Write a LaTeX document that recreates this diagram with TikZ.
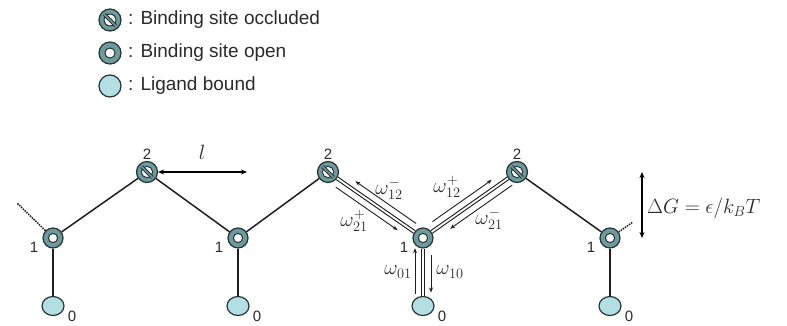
\documentclass[tikz,border=0pt]{standalone}
\usepackage{fontspec}
\setmainfont{Liberation Sans}
\usetikzlibrary{calc,arrows.meta,shapes.geometric}
\definecolor{ring}{HTML}{6F9A9D}
\definecolor{lig}{HTML}{B3DEE2}
\definecolor{outl}{HTML}{263334}
\definecolor{edgec}{HTML}{1E1E1E}
\definecolor{txt}{HTML}{2A2A2A}
\tikzset{
  site/.style={circle, draw=outl, line width=1.2bp, fill=ring, minimum size=#1, inner sep=0pt},
  opensite/.style={site=#1, path picture={
      \draw[outl, line width=1bp, fill=white] (path picture bounding box.center) circle (0.23*#1);}},
  occsite/.style={site=#1, path picture={
      \draw[outl, line width=1bp, fill=white] (path picture bounding box.center) circle (0.27*#1);
      \draw[outl, line width=3.6bp] ([shift={(-0.26*#1,0.26*#1)}]path picture bounding box.center) -- ([shift={(0.26*#1,-0.26*#1)}]path picture bounding box.center);
      \draw[ring, line width=1.6bp] ([shift={(-0.26*#1,0.26*#1)}]path picture bounding box.center) -- ([shift={(0.26*#1,-0.26*#1)}]path picture bounding box.center);}},
  ligsite/.style={ellipse, draw=outl, line width=1.2bp, fill=lig, minimum width=22bp, minimum height=19bp, inner sep=0pt},
  ligleg/.style={circle, draw=outl, line width=1.2bp, fill=lig, minimum size=22bp, inner sep=0pt},
  legtext/.style={anchor=west, inner sep=0pt, text=txt, font=\fontsize{19bp}{21bp}\selectfont},
  digit/.style={inner sep=0pt, text=txt, font=\fontsize{15bp}{16bp}\selectfont},
  mlabel/.style={inner sep=0pt, text=txt, font=\fontsize{19bp}{21bp}\selectfont},
  edge/.style={draw=edgec, line width=1.5bp},
  dedge/.style={draw=edgec, line width=1.1bp, double=white, double distance=1.8bp},
  dotline/.style={draw=edgec, line width=1.5bp, densely dotted},
  rate/.style={draw=edgec, line width=0.9bp, -{Stealth[length=5bp,width=4bp]}},
  bigarrow/.style={draw=black, line width=2bp, {Stealth[length=6bp,width=5bp]}-{Stealth[length=6bp,width=5bp]}}
}
\begin{document}
\begin{tikzpicture}[x=1bp,y=1bp]
\useasboundingbox (0,0) rectangle (787,325);
% legend
\node[occsite=22bp] (leg1) at (110,305) {};
\node[opensite=22bp] (leg2) at (110,272) {};
\node[ligleg] (leg3) at (110,239) {};
\node[legtext] (legt1) at (128,305) {: Binding site occluded};
\node[legtext] (legt2) at (128,272) {: Binding site open};
\node[legtext] (legt3) at (128,239) {: Ligand bound};
% sites
\node[occsite=21bp] (A2) at (147,153) {};
\node[occsite=21bp] (B2) at (328,153) {};
\node[occsite=21bp] (C2) at (517,153) {};
\node[opensite=20bp] (A1) at (53,87) {};
\node[opensite=20bp] (B1) at (238,87) {};
\node[opensite=20bp] (C1) at (423,87) {};
\node[opensite=20bp] (D1) at (610,87) {};
\node[ligsite] (A0) at (53,19) {};
\node[ligsite] (B0) at (238,19) {};
\node[ligsite] (C0) at (423,19) {};
\node[ligsite] (D0) at (610,19) {};
% digit labels
\node[digit] (lA2) at (147,171) {2};
\node[digit] (lB2) at (328,171) {2};
\node[digit] (lC2) at (517,171) {2};
\node[digit] (lA1) at (34,78) {1};
\node[digit] (lB1) at (219,78) {1};
\node[digit] (lC1) at (404,78) {1};
\node[digit] (lD1) at (591,78) {1};
\node[digit] (lA0) at (72,9) {0};
\node[digit] (lB0) at (257,9) {0};
\node[digit] (lC0) at (442,9) {0};
\node[digit] (lD0) at (629,9) {0};
% edges
\draw[edge] (A1) -- (A2);
\draw[edge] (A2) -- (B1);
\draw[edge] (B1) -- (B2);
\draw[dedge] (B2) -- (C1);
\draw[dedge] (C1) -- (C2);
\draw[edge] (C2) -- (D1);
\draw[edge] (A1) -- (A0);
\draw[edge] (B1) -- (B0);
\draw[dedge] (C1) -- (C0);
\draw[edge] (D1) -- (D0);
\coordinate (dl) at (17,122);
\coordinate (dr) at (633,103);
\draw[dotline] (A1) -- (dl);
\draw[dotline] (D1) -- (dr);
% rate arrows
\draw[rate] ($(C1)!0.12!(B2)!8bp!-90:(B2)$) -- ($(C1)!0.76!(B2)!8bp!-90:(B2)$);
\draw[rate] ($(B2)!0.13!(C1)!8bp!-90:(C1)$) -- ($(B2)!0.78!(C1)!8bp!-90:(C1)$);
\draw[rate] ($(C1)!0.15!(C2)!8bp!90:(C2)$) -- ($(C1)!0.78!(C2)!8bp!90:(C2)$);
\draw[rate] ($(C2)!0.10!(C1)!8bp!90:(C1)$) -- ($(C2)!0.76!(C1)!8bp!90:(C1)$);
\draw[rate] ($(C0)!0.18!(C1)!8bp!90:(C1)$) -- ($(C0)!0.85!(C1)!8bp!90:(C1)$);
\draw[rate] ($(C1)!0.25!(C0)!8bp!90:(C0)$) -- ($(C1)!0.80!(C0)!8bp!90:(C0)$);
\node[mlabel] (w12m) at (389,136) {$\omega^-_{12}$};
\node[mlabel] (w21p) at (354,104) {$\omega^+_{21}$};
\node[mlabel] (w12p) at (447,138) {$\omega^+_{12}$};
\node[mlabel] (w21m) at (489,106) {$\omega^-_{21}$};
\node[mlabel] (w01) at (398,53) {$\omega_{01}$};
\node[mlabel] (w10) at (450,53) {$\omega_{10}$};
% length l
\coordinate (lend) at (247,153);
\draw[bigarrow] (A2) -- (lend);
\node[mlabel, font=\fontsize{20bp}{22bp}\selectfont] (ll) at (202,173) {$l$};
% Delta G
\coordinate (gtop) at (642,153);
\coordinate (gbot) at (642,87);
\draw[bigarrow] (gtop) -- (gbot);
\node[mlabel, anchor=west, font=\fontsize{22bp}{24bp}\selectfont] (dg) at (647,117) {$\Delta G = \epsilon/k_BT$};
\end{tikzpicture}
\end{document}
